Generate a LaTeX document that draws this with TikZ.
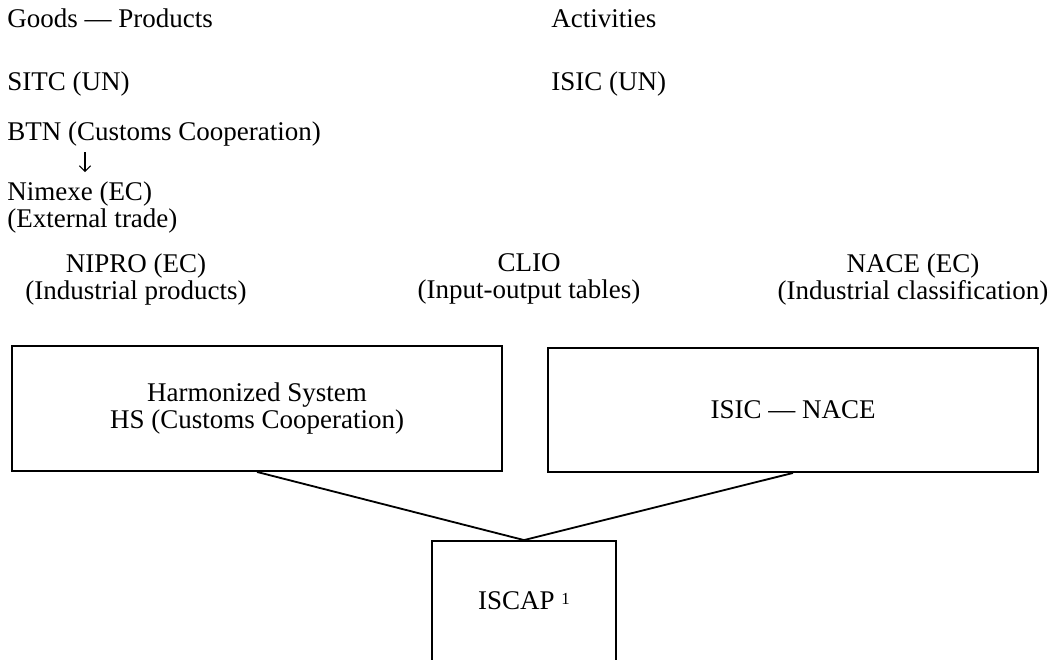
\documentclass[tikz,border=0pt]{standalone}
\usepackage{fontspec}
\setmainfont{Liberation Serif}
\usetikzlibrary{positioning,arrows.meta}

\tikzset{
  txt/.style={inner sep=0pt, anchor=base west},
  blk/.style={inner sep=0pt, align=center},
  frame/.style={draw, line width=1.3pt, inner sep=0pt, align=center},
}

\begin{document}
\begin{tikzpicture}[x=0.025cm, y=-0.025cm, font=\fontsize{19.2}{19.6}\selectfont]
    \clip (0,0) rectangle (1056,659);

    % Goods - products
    \node[txt] (goods) at (7,27) {Goods — Products};
    \node[txt] (sitc) at (7,90) {SITC (UN)};
    \node[txt] (btn) at (7,140) {BTN (Customs Cooperation)};
    \node[blk, anchor=north west, align=left] (nimexe) at (7,181) {Nimexe (EC)\\(External trade)};
    \draw[-{Straight Barb[length=4pt,width=8pt]}, line width=0.8pt, shorten <=0.15cm, shorten >=0.22cm]
        (btn.south -| 85,0) -- (nimexe.north -| 85,0);

    % Activities
    \node[txt] (activ) at (551,27) {Activities};
    \node[txt] (isic) at (551,90) {ISIC (UN)};

    % Middle row
    \node[blk, anchor=north] (nipro) at (136,253) {NIPRO (EC)\\(Industrial products)};
    \node[blk, anchor=north] (clio) at (529,253) {CLIO\\(Input-output tables)};
    \node[blk, anchor=north] (nace) at (913,253) {NACE (EC)\\(Industrial classification)};

    % Boxes
    \node[frame, minimum width=12.25cm, minimum height=3.125cm] (hs) at (257,408.5)
        {Harmonized System\\HS (Customs Cooperation)};
    \node[frame, minimum width=12.25cm, minimum height=3.1cm] (isicnace) at (793,410) {ISIC — NACE};
    \node[frame, minimum width=4.6cm, minimum height=3cm] (iscap) at (524,601)
        {ISCAP \raisebox{0.45ex}{\fontsize{12}{12}\selectfont 1}};

    \draw[line width=1.3pt] (hs.south) -- (iscap.north);
    \draw[line width=1.3pt] (isicnace.south) -- (iscap.north);
\end{tikzpicture}
\end{document}
